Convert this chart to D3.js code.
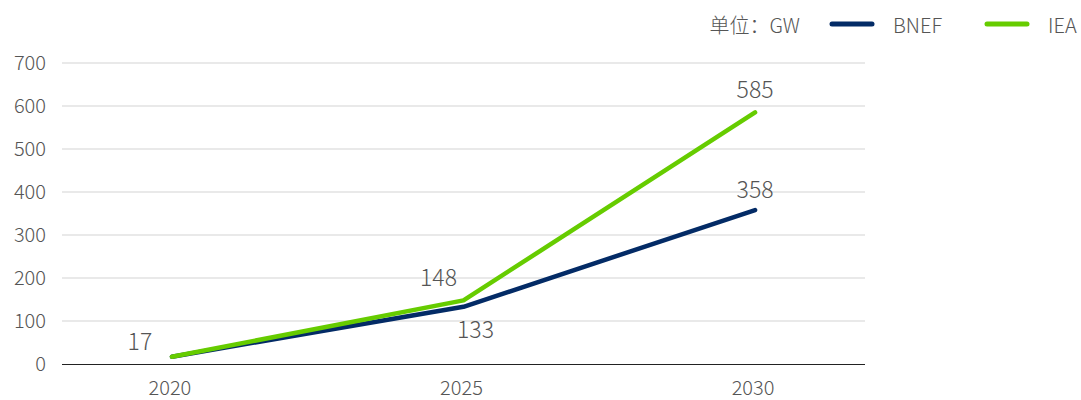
<!DOCTYPE html>
<html><head><meta charset="utf-8">
<script src="https://cdn.jsdelivr.net/npm/d3@7"></script>
<style>body{margin:0;background:#fff}svg{display:block;font-family:"Noto Sans CJK SC","Noto Sans",sans-serif;font-weight:300}</style>
</head><body>
<svg id="c" width="1081" height="400"></svg>
<script>
const years = ["2020","2025","2030"];
const bnef = [17,133,358];
const iea = [17,148,585];
const yTicks = [0,100,200,300,400,500,600,700];
const seriesNames = ["BNEF","IEA"];
const seriesColors = ["#032b66","#66cc00"];
const unitLabel = "单位：GW";

const svg = d3.select("#c");
const x = d3.scalePoint().domain(years).range([62,865]).padding(0.377);
const y = d3.scaleLinear().domain([0,700]).range([364,63]);
const txt = "#555";

// gridlines
svg.append("g").selectAll("line").data(yTicks.filter(d=>d>0)).join("line")
  .attr("x1",62).attr("x2",865).attr("y1",d=>y(d)).attr("y2",d=>y(d))
  .attr("stroke","#d3d3d3").attr("stroke-width",1);
// y labels
svg.append("g").selectAll("text").data(yTicks).join("text")
  .attr("x",46).attr("y",d=>y(d)).attr("dy","0.36em").attr("text-anchor","end")
  .attr("fill",txt).attr("font-size",20).text(d=>d);
// x labels
svg.append("g").selectAll("text").data(years).join("text")
  .attr("x",d=>x(d)-2).attr("y",395).attr("text-anchor","middle")
  .attr("fill",txt).attr("font-size",20).text(d=>d);

const line = d3.line().x((d,i)=>x(years[i])).y(d=>y(d));
[bnef,iea].forEach((s,k)=>{
  svg.append("path").datum(s).attr("d",line).attr("fill","none")
    .attr("stroke",seriesColors[k]).attr("stroke-width",4.5)
    .attr("stroke-linecap","round").attr("stroke-linejoin","round");
});
// baseline
svg.append("line").attr("x1",62).attr("x2",865).attr("y1",y(0)+0.5).attr("y2",y(0)+0.5)
  .attr("stroke","#222").attr("stroke-width",1);

// data labels
const labels = [
  {v:iea[0], x:x(years[0])-32, y:y(iea[0])-7},
  {v:iea[1], x:x(years[1])-25, y:y(iea[1])-14},
  {v:bnef[1], x:x(years[1])+12, y:y(bnef[1])+31},
  {v:iea[2], x:x(years[2]), y:y(iea[2])-14},
  {v:bnef[2], x:x(years[2]), y:y(bnef[2])-12}
];
svg.append("g").selectAll("text").data(labels).join("text")
  .attr("x",d=>d.x).attr("y",d=>d.y).attr("text-anchor","middle")
  .attr("fill",txt).attr("font-size",23).text(d=>d.v);

// legend
svg.append("text").attr("x",800).attr("y",33).attr("text-anchor","end")
  .attr("fill",txt).attr("font-size",20).text(unitLabel);
const lg = [{n:seriesNames[0],c:seriesColors[0],x:830},{n:seriesNames[1],c:seriesColors[1],x:985}];
lg.forEach(d=>{
  svg.append("line").attr("x1",d.x+2).attr("x2",d.x+42).attr("y1",24).attr("y2",24)
    .attr("stroke",d.c).attr("stroke-width",5).attr("stroke-linecap","round");
  svg.append("text").attr("x",d.x+63).attr("y",33).attr("fill",txt).attr("font-size",20).text(d.n);
});
</script>
</body></html>
